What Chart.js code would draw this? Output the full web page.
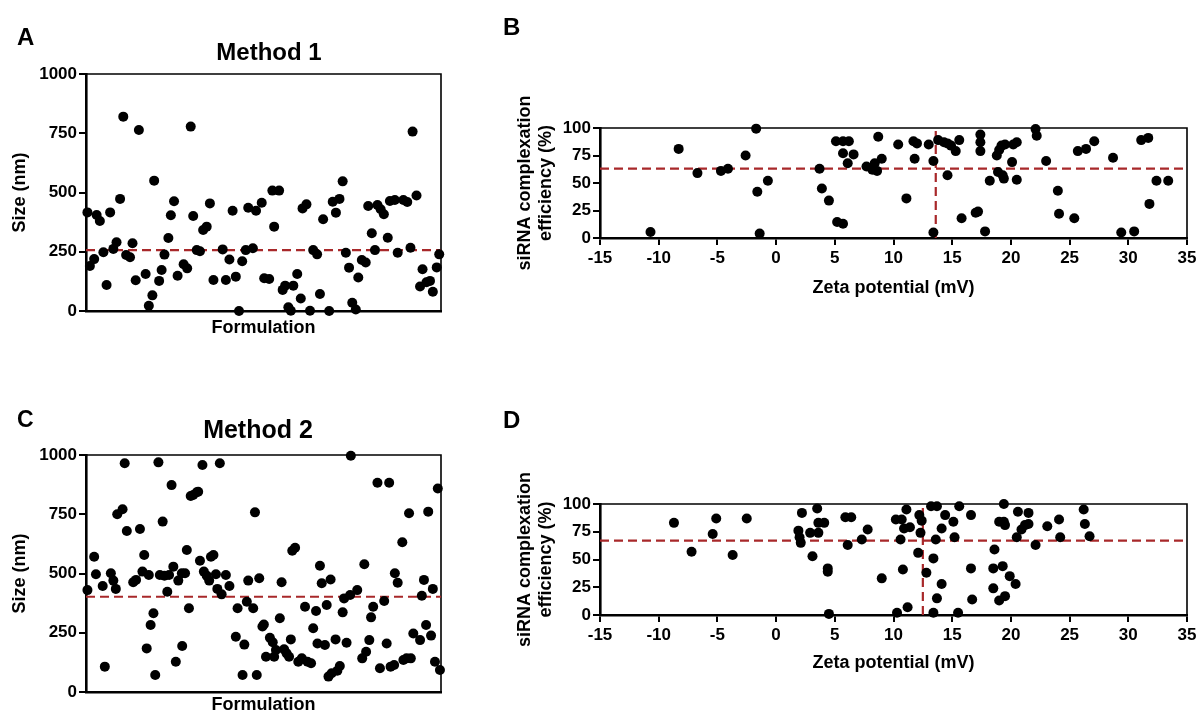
<!DOCTYPE html>
<html>
<head>
<meta charset="utf-8">
<title>Size and siRNA complexation</title>
<script src="https://cdn.jsdelivr.net/npm/chart.js@4.4.1/dist/chart.umd.min.js"></script>
<style>
  body { margin: 0; background: #fff; width: 1200px; height: 718px; position: relative; overflow: hidden; }
  canvas { position: absolute; }
</style>
</head>
<body>
<canvas id="chart-a" width="470" height="345" style="left:0px;top:0px"></canvas>
<canvas id="chart-b" width="720" height="310" style="left:480px;top:0px"></canvas>
<canvas id="chart-c" width="470" height="338" style="left:0px;top:380px"></canvas>
<canvas id="chart-d" width="720" height="300" style="left:480px;top:380px"></canvas>
<script>
// ### data: panel A (method 1, size per formulation) ###
const methodOneFormulation = [
  0.4, 1.1, 2.3, 3.0, 3.9, 4.9, 5.8, 6.8, 7.7, 8.6, 9.6, 10.5, 11.3, 12.4, 13.1, 14.0, 14.9, 16.8, 17.7, 18.7,
  19.2, 20.6, 21.3, 22.1, 23.2, 23.9, 24.8, 25.8, 27.5, 28.5, 29.5, 30.2, 31.2, 32.1, 33.0, 34.0, 34.9, 35.9, 38.5, 39.4,
  40.4, 41.3, 42.2, 43.1, 44.0, 45.0, 45.7, 47.0, 47.9,
  49.5, 50.2, 51.6, 52.5, 53.0, 54.4, 55.4, 56.1, 57.0, 57.7, 58.4, 59.5, 60.5, 61.0, 62.1, 63.1, 64.0, 65.1, 65.9, 66.8,
  68.5, 69.5, 70.4, 71.4, 72.3, 73.2, 74.1, 75.0, 76.0, 76.7, 77.7, 78.8, 79.5, 80.5, 81.4, 82.1, 83.0, 83.9, 85.0, 85.6,
  87.0, 87.8, 89.4, 90.5, 91.4, 92.0, 93.1, 94.1, 94.8, 95.9, 96.9, 97.7, 98.8, 99.5,
];
const methodOneSize = [
  416, 190, 219, 405, 380, 248, 110, 416, 262, 290, 473, 820, 236, 227, 286, 130, 764, 156, 22, 66,
  550, 127, 173, 238, 308, 404, 463, 149, 197, 180, 778, 401, 257, 252, 342, 356, 454, 131, 260, 131,
  217, 423, 145, 0, 210, 257, 436, 265, 423,
  457, 138, 135, 508, 356, 508, 89, 107, 16, 1, 107, 156, 53, 433, 450, 1, 257, 239, 72, 387,
  0, 461, 415, 473, 547, 246, 183, 35, 6, 141, 215, 205, 443, 328, 257, 447, 429, 408, 309, 464,
  468, 246, 468, 460, 267, 757, 487, 103, 176, 121, 127, 81, 184, 239,
];
const methodOneMeanSize = 257;

// ### data: panel B (method 1, zeta vs complexation) ###
const methodOneZeta = [
  -10.7, -8.3, -6.7, -4.7, -4.1, -2.6, -1.7, -1.6, -1.4, -0.7,
  3.7, 3.9, 4.5, 5.2, 5.7, 5.1, 5.7, 6.2, 5.7, 6.1,
  6.6, 7.7, 8.2, 8.4, 8.6, 8.7, 9.0, 10.4, 11.1, 11.7,
  12.0, 11.8, 13.0, 13.4, 13.4, 13.8, 14.3, 14.6, 14.9, 15.3,
  14.6, 15.6, 15.8, 17.0, 17.2, 17.4, 17.4, 17.4, 17.8, 18.2,
  18.8, 19.0, 19.2, 19.5, 18.9, 19.3, 19.4, 20.1, 20.2, 20.5,
  20.5, 22.1, 22.2, 23.0, 24.0, 24.1, 25.4, 25.7, 26.4, 27.1,
  28.7, 29.4, 30.5, 31.1, 31.7, 31.8, 32.4, 33.4,
];
const methodOneEfficiency = [
  5.5, 81, 59, 61, 63, 75, 99.4, 42, 4, 52,
  63, 45, 34, 14.5, 13, 88, 88, 88, 77, 68,
  76, 65, 62, 68, 61, 92, 72, 85, 36, 88,
  86, 72, 85, 70, 5, 89, 87, 86, 84, 79,
  57, 89, 18, 23, 24, 94, 87, 79, 6, 52,
  75, 80, 84, 85, 60, 57, 54, 69, 85, 87,
  53, 99, 93, 70, 43, 22, 18, 79, 81, 88,
  73, 5, 6, 89, 91, 31, 52, 52,
];
const methodOneMeanEfficiency = 63;
const methodOneMeanZeta = 13.6;

// ### data: panel C (method 2, size per formulation) ###
const methodTwoFormulation = [
  0.4, 2.3, 2.8, 4.7, 5.3, 7.0, 7.7, 8.4, 8.8, 10.3, 10.9, 11.5, 13.3, 14.1, 15.2, 15.9, 16.4, 17.1, 17.7, 18.2,
  19.0, 19.5, 20.4, 20.8, 21.6, 22.1, 22.9, 23.4, 24.1, 24.6, 25.3, 26.0, 27.0, 27.1, 27.9, 28.4, 29.0, 29.5, 30.2, 31.2,
  31.6, 32.1, 32.8, 33.2, 34.0, 34.7, 35.2, 35.9, 36.6, 37.0, 37.7, 38.2, 39.4, 40.4, 42.2, 42.7, 44.1, 44.6, 45.3, 45.7,
  47.1, 47.6, 48.1, 48.8,
  49.7, 50.1, 50.7, 51.8, 52.6, 53.0, 53.5, 54.6, 55.1, 55.8, 56.5, 57.2, 57.7, 58.1, 58.9, 59.8, 60.8, 61.7, 62.4, 63.4,
  64.0, 64.8, 65.2, 65.9, 66.4, 67.3, 67.8, 68.3, 68.9, 69.2, 70.3, 70.8, 71.5, 72.3, 72.7, 73.4, 74.4, 74.6, 76.4, 77.8,
  78.4, 78.9, 79.8, 80.3, 80.9, 82.1, 82.8, 84.0, 84.7, 85.4, 85.8, 86.8, 87.0, 87.8, 89.1, 89.4, 90.3, 91.0, 91.5, 92.2,
  94.1, 94.6, 95.2, 95.8, 96.4, 97.2, 97.7, 98.3, 99.1, 99.7,
];
const methodTwoSize = [
  430, 571, 497, 447, 107, 501, 470, 435, 750, 771, 965, 679, 463, 473, 688, 508, 578, 184, 494, 283,
  332, 72, 969, 494, 719, 491, 423, 494, 873, 529, 128, 470, 501, 194, 501, 599, 353, 827, 831, 843,
  845, 554, 958, 508, 491, 470, 571, 578, 497, 435, 965, 412, 494, 447, 233, 353, 72, 200, 381, 470,
  353, 758, 72, 480,
  276, 285, 149, 229, 210, 149, 177, 311, 463, 180, 163, 149, 222, 596, 609, 128, 142, 360, 128, 121,
  269, 342, 205, 533, 459, 198, 367, 65, 475, 79, 222, 90, 110, 336, 395, 208, 409, 997, 430, 142,
  539, 170, 219, 315, 360, 883, 100, 384, 205, 883, 107, 114, 501, 461, 632, 135, 142, 754, 142, 247,
  219, 406, 473, 283, 761, 238, 435, 128, 859, 93,
];
const methodTwoMeanSize = 402;

// ### data: panel D (method 2, zeta vs complexation) ###
const methodTwoZeta = [
  -8.7, -7.2, -5.4, -5.1, -3.7, -2.5, 1.9, 2.2, 2.0, 2.1,
  2.9, 3.1, 3.5, 3.6, 3.6, 4.1, 4.4, 4.4, 4.5, 5.9,
  6.1, 6.4, 7.3, 7.8, 9.0, 10.2, 10.7, 11.1, 10.9, 11.4,
  10.6, 10.8, 10.3, 11.2, 12.1, 12.2, 12.4, 12.3, 12.8, 13.2,
  13.7, 13.4, 13.6, 13.4, 13.7, 14.1, 14.1, 14.4, 15.1, 15.2,
  15.6, 15.5, 16.6, 16.6, 16.7, 18.5, 18.6, 18.5, 19.0, 19.4,
  19.0, 19.4, 19.5, 19.3, 19.5, 19.9, 20.4, 20.5, 20.6, 20.9,
  21.2, 21.5, 21.5, 22.1, 23.1, 24.1, 24.2, 26.2, 26.3, 26.7,
];
const methodTwoEfficiency = [
  83, 57, 73, 87, 54, 87, 76, 92, 70, 65,
  74, 53, 96, 74, 83, 83, 42, 39, 1, 88,
  63, 88, 68, 77, 33, 86, 86, 95, 78, 79,
  68, 41, 2, 7, 56, 90, 85, 74, 38, 98,
  98, 51, 68, 2, 15, 78, 28, 90, 84, 70,
  98, 2, 42, 90, 14, 42, 59, 24, 13, 100,
  84, 84, 81, 44, 17, 35, 28, 70, 93, 77,
  81, 92, 82, 63, 80, 86, 70, 95, 82, 71,
];
const methodTwoMeanEfficiency = 67;
const methodTwoMeanZeta = 12.5;

// ### axis ticks ###
const sizeTicks = [0, 250, 500, 750, 1000];
const efficiencyTicks = [0, 25, 50, 75, 100];
const zetaTicks = [-15, -10, -5, 0, 5, 10, 15, 20, 25, 30, 35];

// ### colors and fonts ###
const BLACK = "#000000";
const DARK_RED = "#a8282a";
const FONT = "'Liberation Sans', Arial, Helvetica, sans-serif";

Chart.defaults.color = BLACK;
Chart.defaults.font.family = FONT;

// ### helpers ###
function toPoints(xs, ys) {
  return xs.map((x, i) => ({ x: x, y: ys[i] }));
}

// no thousands separator on tick labels
function plainLabel(value) {
  return String(value);
}

// thin top and right frame lines
const framePlugin = {
  id: "frame",
  beforeDatasetsDraw(chart) {
    const { ctx, chartArea } = chart;
    ctx.save();
    ctx.strokeStyle = BLACK;
    ctx.lineWidth = 1.6;
    ctx.beginPath();
    ctx.moveTo(chartArea.left, chartArea.top);
    ctx.lineTo(chartArea.right, chartArea.top);
    ctx.lineTo(chartArea.right, chartArea.bottom);
    ctx.stroke();
    ctx.restore();
  },
};

// panel letters and titles
const panelTextPlugin = {
  id: "panelText",
  afterDraw(chart, args, opts) {
    const ctx = chart.ctx;
    ctx.save();
    ctx.fillStyle = BLACK;
    ctx.textBaseline = "alphabetic";
    (opts.items || []).forEach((item) => {
      ctx.font = "bold " + item.size + "px " + FONT;
      ctx.textAlign = item.align || "left";
      ctx.fillText(item.text, item.x, item.y);
    });
    ctx.restore();
  },
};

function pointDataset(xs, ys) {
  return {
    data: toPoints(xs, ys),
    pointRadius: 5,
    pointHoverRadius: 5,
    pointBackgroundColor: BLACK,
    pointBorderWidth: 0,
    clip: false,
  };
}

function dashedDataset(points) {
  return {
    data: points,
    showLine: true,
    pointRadius: 0,
    borderColor: DARK_RED,
    borderWidth: 2.2,
    borderDash: [9, 5],
    clip: false,
  };
}

function valueAxis(min, max, ticks, title, width, titlePad) {
  return {
    type: "linear",
    min: min,
    max: max,
    afterBuildTicks: (scale) => {
      scale.ticks = ticks.map((v) => ({ value: v }));
    },
    afterFit: (scale) => {
      scale.width = width;
    },
    grid: { display: true, drawOnChartArea: false, drawTicks: true, tickLength: 7, color: BLACK, lineWidth: 2 },
    border: { display: true, color: BLACK, width: 2.6 },
    ticks: { font: { size: 17, weight: "bold" }, padding: 2, color: BLACK, callback: plainLabel },
    title: {
      display: true,
      text: title,
      font: { size: 18, weight: "bold" },
      padding: { top: titlePad, bottom: 0 },
      color: BLACK,
    },
  };
}

// ### size per formulation panels (A and C) ###
function renderSizeChart(canvasId, xs, ys, meanSize, layout, texts) {
  return new Chart(document.getElementById(canvasId), {
    type: "scatter",
    data: {
      datasets: [
        pointDataset(xs, ys),
        dashedDataset([{ x: 0, y: meanSize }, { x: 100, y: meanSize }]),
      ],
    },
    options: {
      responsive: false,
      animation: false,
      events: [],
      layout: { padding: layout.padding },
      plugins: {
        legend: { display: false },
        tooltip: { enabled: false },
        panelText: { items: texts },
      },
      scales: {
        x: {
          type: "linear",
          min: 0,
          max: 100,
          afterFit: (scale) => {
            scale.height = layout.xHeight;
          },
          grid: { display: false },
          border: { display: true, color: BLACK, width: 2.6 },
          ticks: { display: false },
          title: {
            display: true,
            text: "Formulation",
            font: { size: 18, weight: "bold" },
            padding: { top: 0, bottom: layout.xTitlePad },
            color: BLACK,
          },
        },
        y: valueAxis(0, 1000, sizeTicks, "Size (nm)", layout.yWidth, 1),
      },
    },
    plugins: [framePlugin, panelTextPlugin],
  });
}

// ### zeta potential vs complexation panels (B and D) ###
function renderZetaChart(canvasId, xs, ys, meanEff, meanZeta, layout, texts) {
  return new Chart(document.getElementById(canvasId), {
    type: "scatter",
    data: {
      datasets: [
        pointDataset(xs, ys),
        dashedDataset([{ x: -15, y: meanEff }, { x: 35, y: meanEff }]),
        dashedDataset([{ x: meanZeta, y: 0 }, { x: meanZeta, y: 100 }]),
      ],
    },
    options: {
      responsive: false,
      animation: false,
      events: [],
      layout: { padding: layout.padding },
      plugins: {
        legend: { display: false },
        tooltip: { enabled: false },
        panelText: { items: texts },
      },
      scales: {
        x: {
          type: "linear",
          min: -15,
          max: 35,
          afterBuildTicks: (scale) => {
            scale.ticks = zetaTicks.map((v) => ({ value: v }));
          },
          afterFit: (scale) => {
            scale.height = layout.xHeight;
          },
          grid: { display: true, drawOnChartArea: false, drawTicks: true, tickLength: 7, color: BLACK, lineWidth: 2 },
          border: { display: true, color: BLACK, width: 2.6 },
          ticks: { font: { size: 17, weight: "bold" }, padding: 3, color: BLACK, maxRotation: 0, callback: plainLabel },
          title: {
            display: true,
            text: "Zeta potential (mV)",
            font: { size: 18, weight: "bold" },
            padding: { top: 0, bottom: layout.xTitlePad },
            color: BLACK,
          },
        },
        y: valueAxis(0, 100, efficiencyTicks, ["siRNA complexation", "efficiency (%)"], layout.yWidth, 4),
      },
    },
    plugins: [framePlugin, panelTextPlugin],
  });
}

// ### application start ###
function main() {
  renderSizeChart(
    "chart-a",
    methodOneFormulation,
    methodOneSize,
    methodOneMeanSize,
    { padding: { left: 8, top: 74, right: 29, bottom: 0 }, yWidth: 78, xHeight: 34, xTitlePad: 6 },
    [
      { text: "A", x: 17, y: 45, size: 24 },
      { text: "Method 1", x: 269, y: 60, size: 24, align: "center" },
    ]
  );

  renderZetaChart(
    "chart-b",
    methodOneZeta,
    methodOneEfficiency,
    methodOneMeanEfficiency,
    methodOneMeanZeta,
    { padding: { left: 30, top: 128, right: 13, bottom: 0 }, yWidth: 90, xHeight: 72, xTitlePad: 11 },
    [{ text: "B", x: 23, y: 35, size: 24 }]
  );

  renderSizeChart(
    "chart-c",
    methodTwoFormulation,
    methodTwoSize,
    methodTwoMeanSize,
    { padding: { left: 8, top: 75, right: 29, bottom: 0 }, yWidth: 78, xHeight: 26, xTitlePad: 2 },
    [
      { text: "C", x: 17, y: 47, size: 23 },
      { text: "Method 2", x: 258, y: 58, size: 25, align: "center" },
    ]
  );

  renderZetaChart(
    "chart-d",
    methodTwoZeta,
    methodTwoEfficiency,
    methodTwoMeanEfficiency,
    methodTwoMeanZeta,
    { padding: { left: 30, top: 124, right: 13, bottom: 0 }, yWidth: 90, xHeight: 65, xTitlePad: 6 },
    [{ text: "D", x: 23, y: 48, size: 24 }]
  );
}

main();
</script>
</body>
</html>
